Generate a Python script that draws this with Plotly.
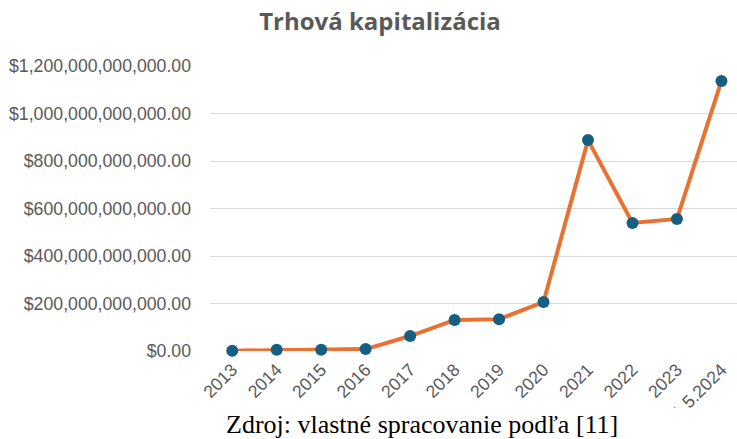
import plotly.graph_objects as go

years = ["2013", "2014", "2015", "2016", "2017", "2018", "2019", "2020",
         "2021", "2022", "2023", "31.5.2024"]
market_cap = [1.5e9, 5.0e9, 5.0e9, 8.0e9, 63e9, 131e9, 134e9, 206e9,
              888e9, 539e9, 556e9, 1137e9]
y_ticks = [0, 200e9, 400e9, 600e9, 800e9, 1000e9, 1200e9]
y_tick_labels = ["$0.00", "$200,000,000,000.00", "$400,000,000,000.00",
                 "$600,000,000,000.00", "$800,000,000,000.00",
                 "$1,000,000,000,000.00", "$1,200,000,000,000.00"]

W, H = 737, 439
L, R, T, B = 210, 0, 66, 88

fig = go.Figure()
fig.add_trace(go.Scatter(
    x=years, y=market_cap, mode="lines+markers",
    line=dict(color="#E97132", width=4),
    marker=dict(color="#156082", size=12),
    cliponaxis=False, showlegend=False,
))

grey = "#595959"
fig.update_layout(
    width=W, height=H,
    margin=dict(l=L, r=R, t=T, b=B, pad=0),
    paper_bgcolor="white", plot_bgcolor="white",
    font=dict(family="Liberation Sans, Arial, sans-serif", color=grey, size=17.7),
    title=dict(text="<b>Trhová kapitalizácia</b>", x=380 / W, xref="container",
               xanchor="center", y=1 - 22 / H, yref="container", yanchor="middle",
               font=dict(family="Open Sans, sans-serif", size=24, color=grey)),
    xaxis=dict(type="category", range=[-0.5, 11.35], showgrid=False,
               tickangle=-45, showline=False, ticks="", zeroline=False,
               ticklabelstandoff=4,
               tickfont=dict(size=17.7, color=grey)),
    yaxis=dict(range=[0, 1200e9], tickvals=y_ticks, ticktext=y_tick_labels,
               showgrid=True, gridcolor="#D9D9D9", gridwidth=1, zeroline=False,
               showline=False, ticks="", ticklabelstandoff=18,
               tickfont=dict(size=17.7, color=grey)),
    shapes=[dict(type="rect", xref="paper", yref="paper",
                 x0=-0.5, x1=1.2, y0=-0.5, y1=-(408 - (H - B)) / (H - T - B),
                 fillcolor="white", line=dict(width=0), layer="above")],
    annotations=[dict(text="Zdroj: vlastné spracovanie podľa [11]",
                      xref="paper", yref="paper",
                      x=(422 - L) / (W - L - R), y=-(424 - (H - B)) / (H - T - B),
                      xanchor="center", yanchor="middle", showarrow=False,
                      font=dict(family="Liberation Serif, Times New Roman, serif",
                                size=26, color="black"))],
)

fig.write_html("out.html", config={"displayModeBar": False},
               post_script="document.body.style.margin='0px';document.body.style.overflow='hidden';")
